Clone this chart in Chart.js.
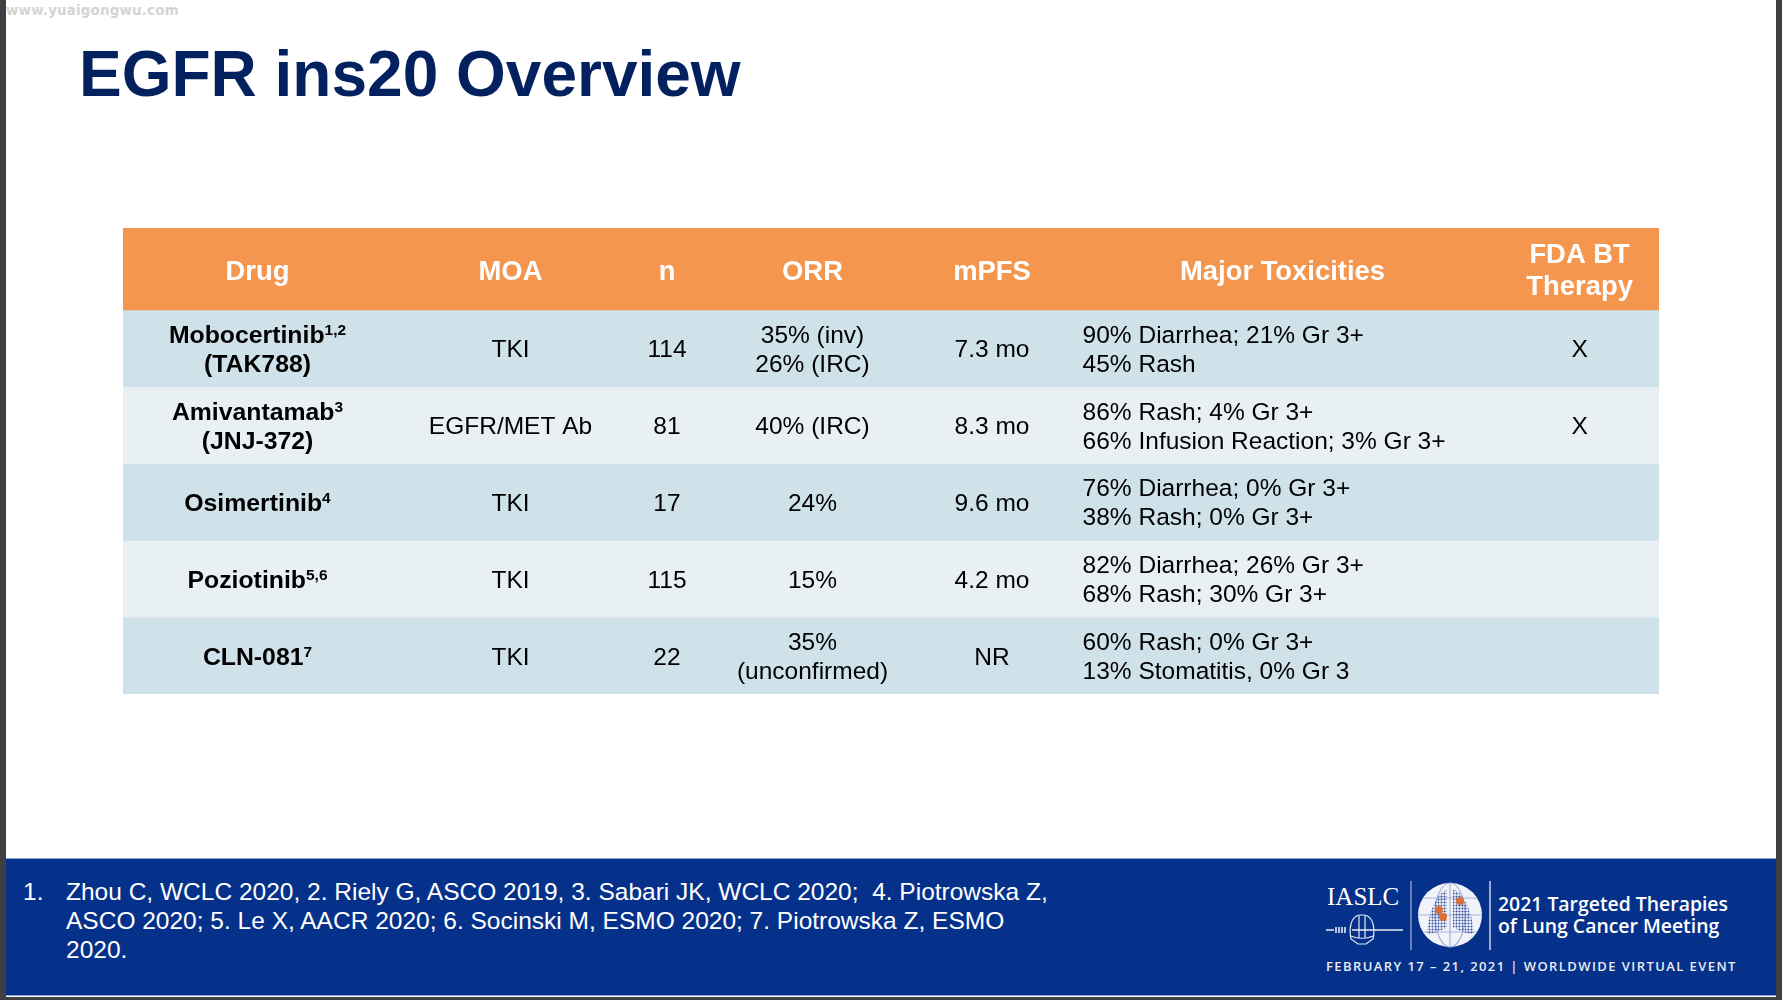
<!DOCTYPE html>
<html>
<head>
<meta charset="utf-8">
<title>EGFR ins20 Overview</title>
<script src="https://cdn.jsdelivr.net/npm/chart.js@4"></script>
<style>
html,body{margin:0;padding:0;background:#3d3f40;}
#slide{position:relative;width:1782px;height:1000px;overflow:hidden;background:#3d3f40;font-family:"Liberation Sans",Arial,sans-serif;}
#page{position:absolute;left:6px;top:0;width:1770px;height:997px;background:#fff;}
#mark{position:absolute;left:6px;top:3px;font:bold 13.4px "DejaVu Sans",sans-serif;color:#d4d4d4;letter-spacing:.2px;}
#title{position:absolute;left:79px;top:37px;font-weight:bold;font-size:64px;line-height:74px;color:#03215f;white-space:nowrap;}
#tableBox{position:absolute;left:123px;top:228px;width:1536px;height:466px;}
#footer{position:absolute;left:6px;top:858px;width:1770px;height:138px;background:#06318a;border-top:1px solid #8fa3cc;border-bottom:1px solid #8fa3cc;box-sizing:border-box;color:#fff;}
.ref{position:absolute;font-size:24.5px;line-height:29px;white-space:nowrap;}
.brand{position:absolute;white-space:nowrap;color:#fff;}
</style>
</head>
<body>
<div id="slide">
  <div id="page"></div>
  <div id="mark">www.yuaigongwu.com</div>
  <div id="title">EGFR ins20 Overview</div>
  <div id="tableBox"><canvas id="tableChart" width="1536" height="466"></canvas></div>
  <div id="footer">
    <div class="ref" style="left:17px;top:18px">1.</div>
    <div class="ref" style="left:60px;top:18px">Zhou C, WCLC 2020, 2. Riely G, ASCO 2019, 3. Sabari JK, WCLC 2020;&nbsp; 4. Piotrowska Z,<br>ASCO 2020; 5. Le X, AACR 2020; 6. Socinski M, ESMO 2020; 7. Piotrowska Z, ESMO<br>2020.</div>
    <div class="brand" style="left:1321px;top:24px;font:25px 'Liberation Serif',serif;">IASLC</div>
    <svg style="position:absolute;left:1310px;top:18px" width="200" height="80" viewBox="1316 876 200 80">
      <defs>
        <pattern id="dots" width="3" height="3" patternUnits="userSpaceOnUse"><circle cx="1.5" cy="1.5" r="1" fill="#2c4c9c"/></pattern>
      </defs>
      <!-- emblem -->
      <g fill="none" stroke="#e8ecf5" stroke-width="1.2">
        <path d="M1326 929h8m2-3v6m3-6v6m3-6v6m3-6v6M1352 929h51" stroke-width="1.6"/>
        <path d="M1351 938c-2-9-1-23 9-24h4c10 1 11 15 9 24l-7 5h-8z"/>
        <path d="M1359 915v22M1365 915v22M1351 935c6 3 16 3 22 0"/>
      </g>
      <path d="M1411 880v69" stroke="#a9b6d8" stroke-width="1.2"/>
      <path d="M1490 880v69" stroke="#fff" stroke-width="1.2"/>
      <!-- globe and lungs -->
      <circle cx="1450" cy="914" r="32" fill="#f1f3f8"/>
      <g fill="none" stroke="#aab4d6" stroke-width="1.2">
        <path d="M1418 914h64M1450 882v64M1423 897h54M1423 931h54"/>
        <ellipse cx="1450" cy="914" rx="15" ry="32"/>
      </g>
      <path d="M1447 889c-9 1-19 22-20 44 6 0 14-3 20-7zM1453 889c9 0 20 22 21 44-7 0-15-3-21-7z" fill="url(#dots)"/>
      <circle cx="1460" cy="900" r="4" fill="#d9703a"/>
      <circle cx="1439" cy="909" r="4" fill="#d9703a"/>
      <circle cx="1443" cy="916" r="4" fill="#d9703a"/>
    </svg>
    <div class="brand" style="left:1492px;top:34px;font:600 19.4px/21.5px 'Open Sans',sans-serif;">2021 Targeted Therapies<br>of Lung Cancer Meeting</div>
    <div class="brand" style="left:1320px;top:98px;font:600 13px/18px 'Open Sans',sans-serif;letter-spacing:1.42px;color:#e8ecf5">FEBRUARY 17 – 21, 2021 | WORLDWIDE VIRTUAL EVENT</div>
  </div>
</div>

<script>
// table contents
const headers = ['Drug', 'MOA', 'n', 'ORR', 'mPFS', 'Major Toxicities'];
const fdaHeader = ['FDA BT', 'Therapy'];
const drugs = ['Mobocertinib', 'Amivantamab', 'Osimertinib', 'Poziotinib', 'CLN-081'];
const drugRefs = ['1,2', '3', '4', '5,6', '7'];
const drugCodes = ['(TAK788)', '(JNJ-372)', '', '', ''];
const moa = ['TKI', 'EGFR/MET Ab', 'TKI', 'TKI', 'TKI'];
const patients = [114, 81, 17, 115, 22];
const orr = [['35% (inv)', '26% (IRC)'], ['40% (IRC)'], ['24%'], ['15%'], ['35%', '(unconfirmed)']];
const mpfs = ['7.3 mo', '8.3 mo', '9.6 mo', '4.2 mo', 'NR'];
const toxicities = [
    ['90% Diarrhea; 21% Gr 3+', '45% Rash'],
    ['86% Rash; 4% Gr 3+', '66% Infusion Reaction; 3% Gr 3+'],
    ['76% Diarrhea; 0% Gr 3+', '38% Rash; 0% Gr 3+'],
    ['82% Diarrhea; 26% Gr 3+', '68% Rash; 30% Gr 3+'],
    ['60% Rash; 0% Gr 3+', '13% Stomatitis, 0% Gr 3']
];
const fdaBT = ['X', 'X', '', '', ''];

// layout, in the units of the two table scales
const headerRows = 1.065;
const colCentres = [134.5, 387.5, 544, 689.5, 869, 1159.5];
const fdaCentre = 1456.6;
const toxLeft = 959.6;
const headerColor = '#f5964f';
const bandColors = ['#cfe1e9', '#e9f0f4'];
const bodyFont = '24.5px "Liberation Sans"';
const boldFont = 'bold 24.8px "Liberation Sans"';
const headFont = 'bold 27.4px "Liberation Sans"';
const supFont = 'bold 15.5px "Liberation Sans"';

const rowStart = i => headerRows + i;

const bands = drugs.map((d, i) => ({
    label: d,
    data: [[rowStart(i), rowStart(i) + 1]],
    backgroundColor: bandColors[i % 2],
    barPercentage: 1,
    categoryPercentage: 1
}));
bands.unshift({
    label: 'header',
    data: [[0, headerRows]],
    backgroundColor: headerColor,
    barPercentage: 1,
    categoryPercentage: 1
});

const tableText = {
    id: 'tableText',
    afterDatasetsDraw(chart) {
        const { ctx, scales } = chart;
        const col = scales.col, y = scales.y;
        ctx.save();
        ctx.textBaseline = 'alphabetic';

        function lines(list, x, mid, font, color, align, gap) {
            ctx.font = font;
            ctx.fillStyle = color;
            ctx.textAlign = align;
            const top = mid - (list.length - 1) * gap / 2;
            list.forEach((t, k) => ctx.fillText(t, x, top + k * gap + 9));
        }

        const headMid = y.getPixelForValue(headerRows / 2);
        headers.forEach((h, c) => lines([h], col.getPixelForValue(colCentres[c]), headMid + 2, headFont, '#fff', 'center', 32));
        lines(fdaHeader, col.getPixelForValue(fdaCentre), headMid + 1, headFont, '#fff', 'center', 32);

        drugs.forEach((name, i) => {
            const mid = y.getPixelForValue(rowStart(i) + 0.5);
            const cx = col.getPixelForValue(colCentres[0]);
            const two = drugCodes[i] !== '';
            const nameY = two ? mid - 14.5 : mid;

            // drug name with its reference raised after it, centred as one piece
            ctx.font = boldFont;
            const nameW = ctx.measureText(name).width;
            ctx.font = supFont;
            const supW = ctx.measureText(drugRefs[i]).width;
            const left = cx - (nameW + supW) / 2;
            ctx.textAlign = 'left';
            ctx.fillStyle = '#000';
            ctx.font = boldFont;
            ctx.fillText(name, left, nameY + 9);
            ctx.font = supFont;
            ctx.fillText(drugRefs[i], left + nameW, nameY + 1);
            if (two) lines([drugCodes[i]], cx, mid + 14.5, boldFont, '#000', 'center', 29);

            lines([moa[i]], col.getPixelForValue(colCentres[1]), mid, bodyFont, '#000', 'center', 29);
            lines([String(patients[i])], col.getPixelForValue(colCentres[2]), mid, bodyFont, '#000', 'center', 29);
            lines(orr[i], col.getPixelForValue(colCentres[3]), mid, bodyFont, '#000', 'center', 29);
            lines([mpfs[i]], col.getPixelForValue(colCentres[4]), mid, bodyFont, '#000', 'center', 29);
            lines(toxicities[i], col.getPixelForValue(toxLeft), mid, bodyFont, '#000', 'left', 29);
            if (fdaBT[i]) lines([fdaBT[i]], col.getPixelForValue(fdaCentre), mid, bodyFont, '#000', 'center', 29);
        });
        ctx.restore();
    }
};

new Chart(document.getElementById('tableChart'), {
    type: 'bar',
    data: { labels: ['table'], datasets: bands },
    plugins: [tableText],
    options: {
        responsive: false,
        animation: false,
        layout: { padding: 0 },
        plugins: { legend: { display: false }, title: { display: false }, tooltip: { enabled: false } },
        scales: {
            x: { display: false, stacked: true },
            col: { type: 'linear', axis: 'x', display: false, offset: false, min: 0, max: 1536 },
            y: { display: false, reverse: true, stacked: false, min: 0, max: headerRows + drugs.length }
        }
    }
});
</script>
</body>
</html>
